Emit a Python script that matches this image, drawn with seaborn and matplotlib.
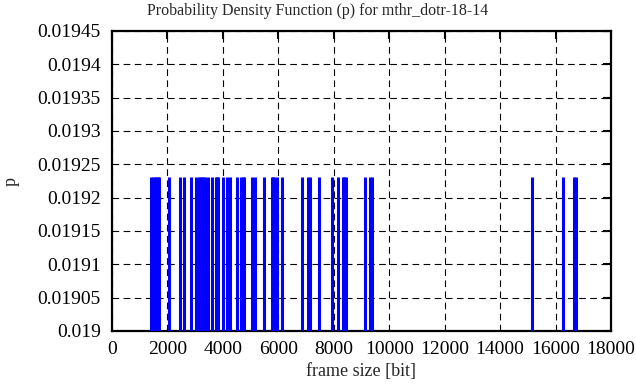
import numpy as np
import pandas as pd
import matplotlib
matplotlib.use('Agg')
import matplotlib.pyplot as plt
import seaborn as sns

# frame sizes (each occurs once -> p = 1/52)
frame_sizes = [1420, 1480, 1540, 1600, 1660, 1710,
               2070, 2450, 2610, 2850, 3030,
               3130, 3190, 3250, 3300, 3360,
               3470, 3610, 3740, 3790, 3840,
               4000, 4150, 4260, 4510, 4650, 4710, 4770,
               5050, 5160, 5490, 5760, 5810, 5860,
               5950, 6130, 6850, 7060, 7150,
               7470, 7930, 8150, 8320, 8380, 8440,
               9130, 9300, 9390,
               15150, 16270, 16660, 16750]
n_frames = 52
probs = [1.0 / n_frames] * len(frame_sizes)

y_ticks = [0.019, 0.01905, 0.0191, 0.01915, 0.0192, 0.01925,
           0.0193, 0.01935, 0.0194, 0.01945]
x_ticks = [0, 2000, 4000, 6000, 8000, 10000, 12000, 14000, 16000, 18000]

df = pd.DataFrame({'size': frame_sizes, 'p': probs})

sns.set_style('white')
plt.rcParams['font.family'] = ['Liberation Serif', 'DejaVu Serif']
plt.rcParams['font.size'] = 13.5

fig = plt.figure(figsize=(6.36, 3.87), dpi=100)
ax = fig.add_axes([112 / 636, 56 / 387, 499 / 636, 300 / 387])

ax.vlines(df['size'], 0.019, df['p'], color='#0000ff', linewidth=2.2, zorder=3)

ax.set_xlim(0, 18000)
ax.set_ylim(0.019, 0.01945)
ax.set_xticks(x_ticks)
ax.set_yticks(y_ticks)
ax.set_xticklabels([f'{v:g}' for v in x_ticks])
ax.set_yticklabels([f'{v:g}' for v in y_ticks])

ax.grid(True, color='black', linestyle=(0, (6, 4)), linewidth=0.8)
ax.tick_params(direction='in', length=6, width=1.5, top=True, right=True,
               colors='black', labelsize=14)
ax.tick_params(axis='y', pad=8)
ax.tick_params(axis='x', pad=7)
for s in ax.spines.values():
    s.set_color('black')
    s.set_linewidth(1.6)

fig.text(0.5, 1 - 11 / 387, 'Probability Density Function (p) for mthr_dotr-18-14',
         ha='center', va='center', fontsize=11.5)
ax.set_xlabel('frame size [bit]', fontsize=13)
ax.set_ylabel('p', fontsize=13)
ax.xaxis.set_label_coords(0.5, -32 / 300)
ax.yaxis.set_label_coords(-92 / 499, 0.5)

fig.savefig('out.png', dpi=100)
